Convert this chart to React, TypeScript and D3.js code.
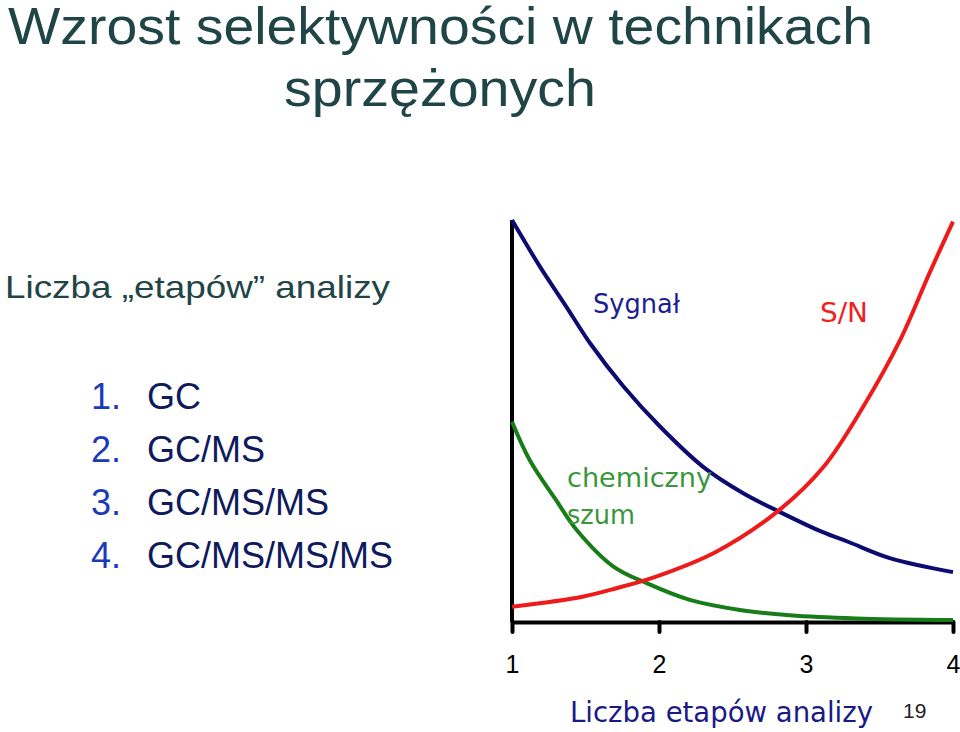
import * as d3 from "d3";
import React, { useEffect, useRef } from "react";

// values (y in arbitrary units, 0..100)
const steps = [1, 2, 3, 4];
const tickLabels = ["1", "2", "3", "4"];
const methods = ["GC", "GC/MS", "GC/MS/MS", "GC/MS/MS/MS"];

const signalX = [1.0, 1.19, 1.37, 1.53, 1.76, 2.01, 2.3, 2.57, 2.82, 3.11, 3.29, 3.57, 4.0];
const signalY = [100, 88.4, 78.4, 69.4, 58.5, 48.5, 38.6, 32.1, 27.4, 22.4, 19.9, 15.9, 12.4];

const noiseX = [1.0, 1.12, 1.3, 1.44, 1.69, 1.92, 2.21, 2.55, 2.89, 3.34, 4.0];
const noiseY = [49.8, 40.3, 30.3, 22.9, 13.8, 9.6, 5.5, 3.0, 1.7, 0.9, 0.5];

const snX = [1.0, 1.48, 1.71, 1.98, 2.39, 2.82, 3.12, 3.39, 3.64, 3.84, 4.0];
const snY = [3.8, 6.3, 8.4, 11.3, 17.5, 27.9, 38.6, 53.6, 70.1, 86.8, 99.6];

export default function App() {
  const svgRef = useRef(null);
  const width = 960;
  const height = 732;

  useEffect(() => {
    const svgEl = d3.select(svgRef.current);
    svgEl.selectAll("*").remove();

    const x_scale = d3.scaleLinear().domain([1, 4]).range([512, 953]);
    const y_scale = d3.scaleLinear().domain([0, 100]).range([622, 220]);

    const dark = "#1f4547";

    // title
    svgEl
      .append("text")
      .attr("x", 8)
      .attr("y", 44)
      .attr("font-family", "Liberation Sans, Arial, sans-serif")
      .attr("font-size", 52)
      .attr("fill", dark)
      .attr("textLength", 865)
      .attr("lengthAdjust", "spacingAndGlyphs")
      .text("Wzrost selektywności w technikach");
    svgEl
      .append("text")
      .attr("x", 284)
      .attr("y", 106)
      .attr("font-family", "Liberation Sans, Arial, sans-serif")
      .attr("font-size", 52)
      .attr("fill", dark)
      .attr("textLength", 312)
      .attr("lengthAdjust", "spacingAndGlyphs")
      .text("sprzężonych");

    svgEl
      .append("text")
      .attr("x", 5)
      .attr("y", 298)
      .attr("font-family", "Liberation Sans, Arial, sans-serif")
      .attr("font-size", 32)
      .attr("fill", dark)
      .attr("textLength", 385)
      .attr("lengthAdjust", "spacingAndGlyphs")
      .text("Liczba „etapów” analizy");

    // numbered list
    const list = svgEl.append("g").attr("font-family", "Liberation Sans, Arial, sans-serif").attr("font-size", 36);
    methods.forEach((m, i) => {
      const y = 409 + i * 53;
      list.append("text").attr("x", 91).attr("y", y).attr("fill", "#1b3aba").text(steps[i] + ".");
      list.append("text").attr("x", 147).attr("y", y).attr("fill", "#0e1a5c").text(m);
    });

    // axes
    svgEl
      .append("line")
      .attr("x1", x_scale(1))
      .attr("x2", x_scale(1))
      .attr("y1", y_scale(100))
      .attr("y2", y_scale(0))
      .attr("stroke", "#000")
      .attr("stroke-width", 4);

    const xAxis = svgEl
      .append("g")
      .attr("transform", "translate(0," + y_scale(0) + ")")
      .call(
        d3
          .axisBottom(x_scale)
          .tickValues(steps)
          .tickSize(10)
          .tickSizeOuter(0)
          .tickFormat((d, i) => tickLabels[i])
      );
    xAxis.select(".domain").attr("stroke", "#000").attr("stroke-width", 4);
    xAxis.selectAll(".tick line").attr("stroke", "#000").attr("stroke-width", 4).attr("stroke-linecap", "round");
    xAxis
      .selectAll(".tick text")
      .attr("font-family", "Liberation Sans, Arial, sans-serif")
      .attr("font-size", 25)
      .attr("fill", "#000")
      .attr("dy", null)
      .attr("y", 51);

    const line = d3
      .line()
      .x((d) => x_scale(d[0]))
      .y((d) => y_scale(d[1]))
      .curve(d3.curveCatmullRom);

    // Sygnał
    svgEl
      .append("path")
      .datum(signalX.map((v, i) => [v, signalY[i]]))
      .attr("fill", "none")
      .attr("stroke", "#0b0b72")
      .attr("stroke-width", 4)
      .attr("d", line);

    // chemiczny szum
    svgEl
      .append("path")
      .datum(noiseX.map((v, i) => [v, noiseY[i]]))
      .attr("fill", "none")
      .attr("stroke", "#187c18")
      .attr("stroke-width", 4)
      .attr("d", line);

    // S/N
    svgEl
      .append("path")
      .datum(snX.map((v, i) => [v, snY[i]]))
      .attr("fill", "none")
      .attr("stroke", "#ee1b1b")
      .attr("stroke-width", 4)
      .attr("d", line);

    // curve labels
    const lab = svgEl.append("g").attr("font-family", "DejaVu Sans, Verdana, sans-serif").attr("font-size", 27);
    lab.append("text").attr("x", 593).attr("y", 313).attr("fill", "#1e1e8e").attr("textLength", 87).attr("lengthAdjust", "spacingAndGlyphs").text("Sygnał");
    lab.append("text").attr("x", 820).attr("y", 322).attr("fill", "#ee2020").attr("textLength", 48).attr("lengthAdjust", "spacingAndGlyphs").text("S/N");
    lab.append("text").attr("x", 567).attr("y", 487).attr("fill", "#3a963a").attr("textLength", 145).attr("lengthAdjust", "spacingAndGlyphs").text("chemiczny");
    lab.append("text").attr("x", 567).attr("y", 524).attr("fill", "#3a963a").attr("textLength", 68).attr("lengthAdjust", "spacingAndGlyphs").text("szum");

    // axis title and page number
    svgEl
      .append("text")
      .attr("x", 570)
      .attr("y", 722)
      .attr("font-family", "DejaVu Sans, Verdana, sans-serif")
      .attr("font-size", 28)
      .attr("fill", "#1a1a86")
      .attr("textLength", 303)
      .attr("lengthAdjust", "spacingAndGlyphs")
      .text("Liczba etapów analizy");
    svgEl
      .append("text")
      .attr("x", 903)
      .attr("y", 718)
      .attr("font-family", "Liberation Sans, Arial, sans-serif")
      .attr("font-size", 21)
      .attr("fill", "#222")
      .text("19");
  });

  return (
    <div style={{ position: "absolute", left: 0, top: 0, background: "#fff" }}>
      <svg width={width} height={height} ref={svgRef}></svg>
    </div>
  );
}
